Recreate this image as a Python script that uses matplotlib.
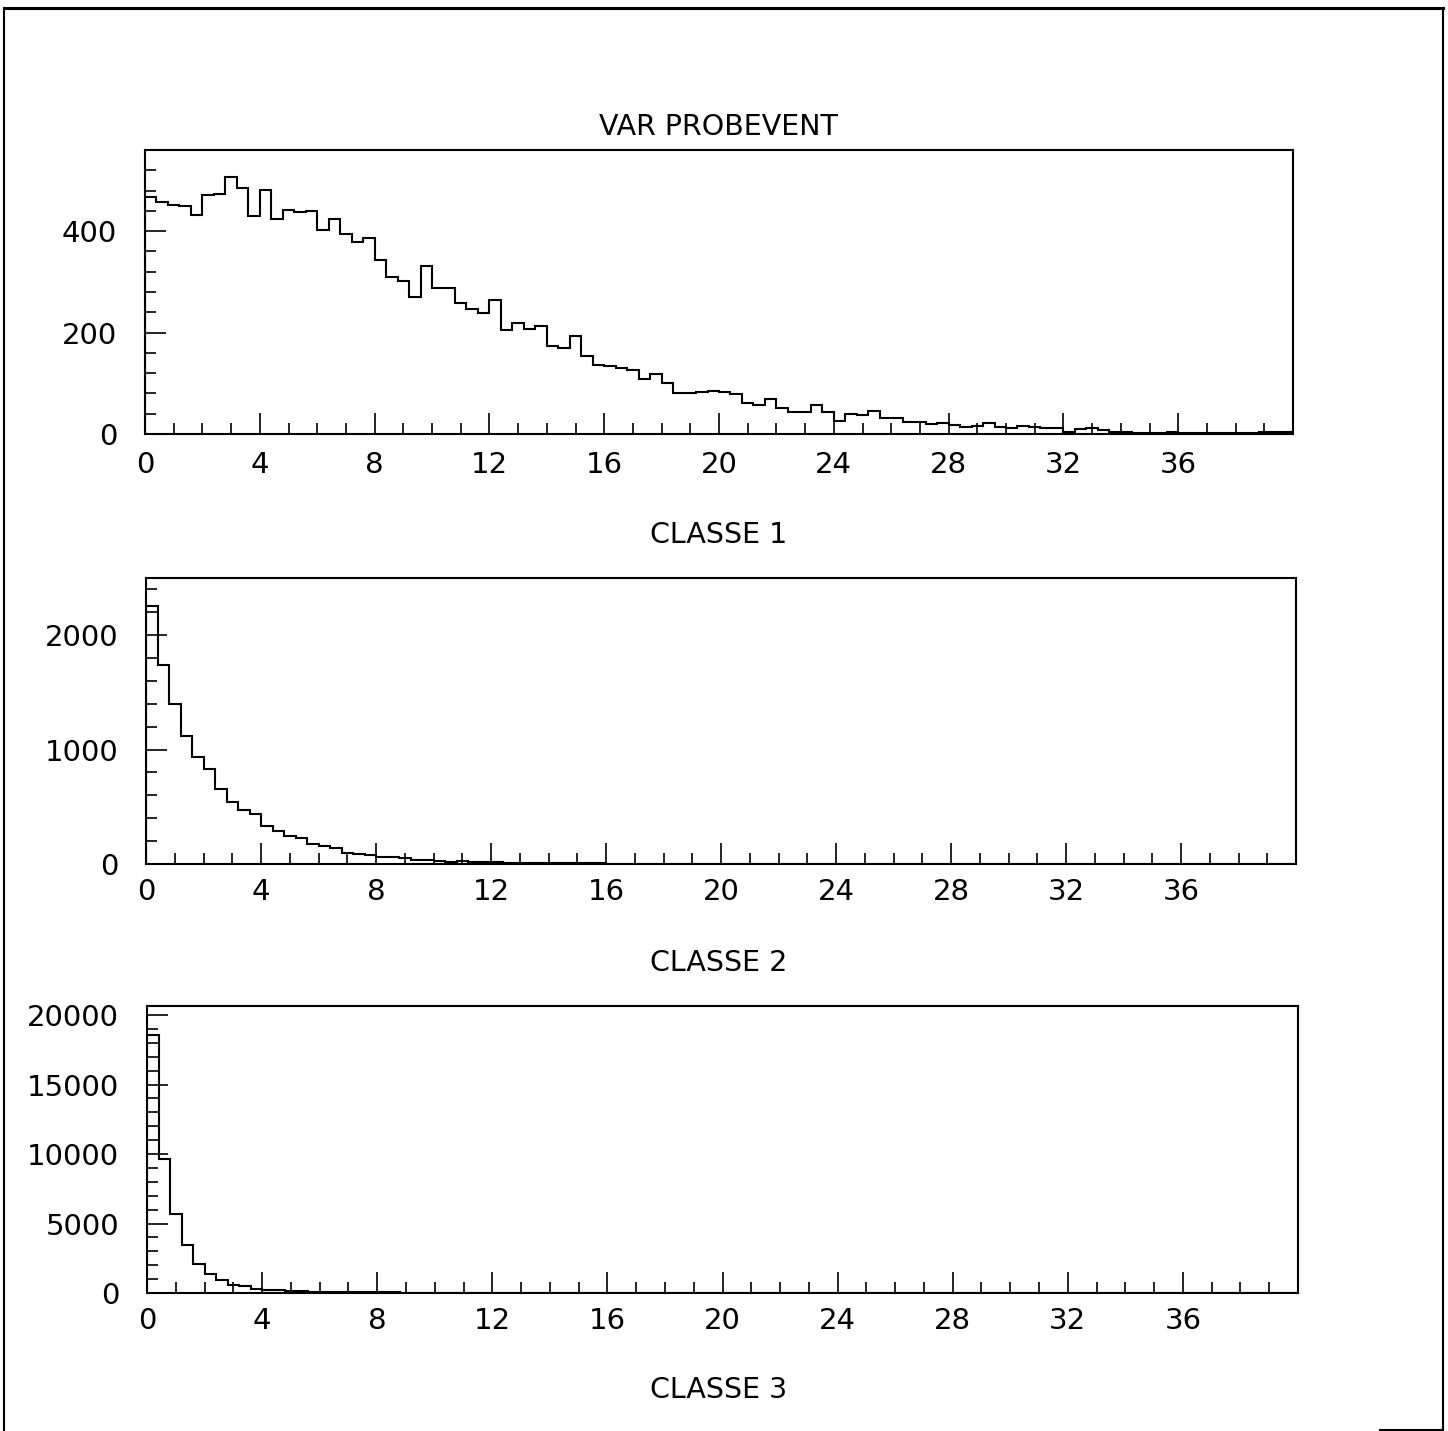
import numpy as np
import matplotlib
matplotlib.use("Agg")
import matplotlib.pyplot as plt
from matplotlib.lines import Line2D
from matplotlib.ticker import MultipleLocator, FixedLocator

# ---- data: 100 bins of width 0.4 on [0, 40] ----
bin_edges = np.linspace(0, 40, 101)

var_probevent = [
    468, 458, 451, 450, 431, 471, 474, 506, 485, 430,
    481, 423, 442, 438, 440, 403, 424, 394, 379, 386,
    344, 310, 302, 271, 331, 288, 287, 259, 246, 238,
    264, 205, 219, 208, 213, 173, 169, 194, 154, 136,
    134, 131, 126, 109, 118, 100, 80, 80, 83, 85,
    83, 79, 62, 57, 69, 52, 44, 44, 58, 44,
    26, 39, 37, 46, 32, 32, 24, 24, 20, 22,
    18, 14, 15, 21, 13, 11, 15, 13, 11, 11,
    4, 9, 11, 7, 4, 4, 2, 2, 2, 3,
    2, 1, 1, 1, 1, 2, 2, 3, 3, 4,
]

classe2 = [
    2251, 1740, 1396, 1120, 939, 831, 656, 545, 472, 434,
    332, 292, 245, 224, 172, 160, 143, 99, 85, 75,
    62, 62, 50, 37, 33, 28, 20, 22, 20, 18,
    15, 12, 10, 9, 8, 7, 6, 6, 5, 5,
    4, 4, 3, 3, 3, 2, 2, 2, 1, 1,
    1, 0, 0, 0, 0, 0, 0, 0, 0, 0,
    0, 0, 0, 0, 0, 0, 0, 0, 0, 0,
    0, 0, 0, 0, 0, 0, 0, 0, 0, 0,
    0, 0, 0, 0, 0, 0, 0, 0, 0, 0,
    0, 0, 0, 0, 0, 0, 0, 0, 0, 0,
]

classe3 = [
    18561, 9640, 5683, 3453, 2086, 1367, 935, 600, 480, 310,
    240, 180, 150, 120, 100, 80, 70, 60, 55, 50,
    45, 40, 35, 30, 25, 20, 15, 12, 10, 8,
    6, 5, 4, 3, 3, 2, 2, 1, 1, 0,
    0, 0, 0, 0, 0, 0, 0, 0, 0, 0,
    0, 0, 0, 0, 0, 0, 0, 0, 0, 0,
    0, 0, 0, 0, 0, 0, 0, 0, 0, 0,
    0, 0, 0, 0, 0, 0, 0, 0, 0, 0,
    0, 0, 0, 0, 0, 0, 0, 0, 0, 0,
    0, 0, 0, 0, 0, 0, 0, 0, 0, 0,
]

main_title = "VAR PROBEVENT"
panel_labels = ["CLASSE 1", "CLASSE 2", "CLASSE 3"]
x_major_ticks = [0, 4, 8, 12, 16, 20, 24, 28, 32, 36]
y_limits = [560, 2500, 20650]
y_major_steps = [200, 1000, 5000]
y_minor_steps = [40, 200, 1000]

# ---- figure ----
W, H = 1448, 1431
plt.rcParams['font.family'] = ['DejaVu Sans']
fig = plt.figure(figsize=(W / 100, H / 100), dpi=100)

def fx(px):
    return px / W

def fy(py):
    return 1 - py / H

# axes boxes in pixels: left, right, top, bottom
boxes = [(145, 1293, 150, 434), (146, 1296, 578, 864), (147, 1298, 1006, 1293)]
series = [var_probevent, classe2, classe3]
x_pads = [12, 10, 10]
label_y = [535, 963, 1390]

for i, (box, vals) in enumerate(zip(boxes, series)):
    l, r, t, b = box
    ax = fig.add_axes([fx(l), fy(b), fx(r) - fx(l), fy(t) - fy(b)])
    ax.stairs(vals, bin_edges, color='black', linewidth=1.5, baseline=0)
    ax.set_xlim(0, 40)
    ax.set_ylim(0, y_limits[i])
    ax.xaxis.set_major_locator(FixedLocator(x_major_ticks + [40]))
    ax.xaxis.set_minor_locator(MultipleLocator(1))
    ax.yaxis.set_major_locator(MultipleLocator(y_major_steps[i]))
    ax.yaxis.set_minor_locator(MultipleLocator(y_minor_steps[i]))
    ax.set_xticklabels([str(v) for v in x_major_ticks] + [""])
    ax.tick_params(axis='both', which='both', direction='in', top=False, right=False,
                   color='black', labelsize=21)
    ax.tick_params(axis='both', which='major', length=15, width=1.2)
    ax.tick_params(axis='both', which='minor', length=8, width=1.2)
    ax.tick_params(axis='x', which='major', pad=x_pads[i])
    ax.tick_params(axis='y', which='major', pad=20)
    for s in ax.spines.values():
        s.set_linewidth(1.5)
    fig.text(fx(719), fy(label_y[i]), panel_labels[i], ha='center', va='center', fontsize=20.5)

fig.text(fx(718), fy(127), main_title, ha='center', va='center', fontsize=20.5)

# outer frame of the page
frame_kw = dict(color='black', linewidth=1.5, transform=fig.transFigure)
fig.add_artist(Line2D([fx(4), fx(4)], [fy(8), fy(1431)], **frame_kw))
fig.add_artist(Line2D([fx(4), fx(1443)], [fy(8), fy(8)], color='black', linewidth=2.2,
                      transform=fig.transFigure))
fig.add_artist(Line2D([fx(1443), fx(1443)], [fy(8), fy(1430)], **frame_kw))
fig.add_artist(Line2D([fx(1380), fx(1443)], [fy(1430), fy(1430)], **frame_kw))

fig.savefig("out.png", dpi=100, facecolor='white')
